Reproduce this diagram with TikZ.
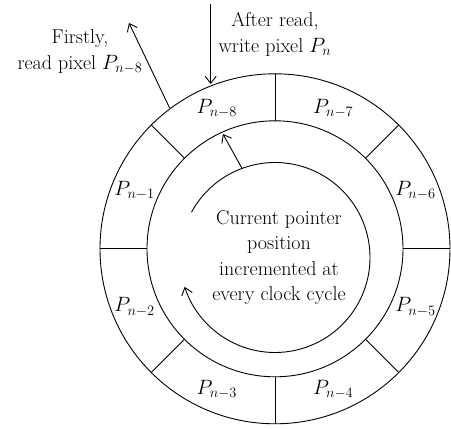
\documentclass[tikz,border=0pt]{standalone}
\usetikzlibrary{arrows.meta,calc}
\begin{document}
\begin{tikzpicture}[x=1pt,y=1pt,
  ln/.style={line width=0.9pt},
  arr/.style={ln,-{Straight Barb[length=7pt,width=11pt,line width=0.9pt]}},
  lbl/.style={font=\fontsize{20}{25}\selectfont, inner sep=0pt},
  txt/.style={font=\fontsize{20}{25.5}\selectfont, align=center, inner sep=0pt}]
\useasboundingbox (0,0) rectangle (451,429);
\coordinate (C) at (275,180.2);
\coordinate (A) at (275,171.5);
% ring
\draw[ln] (C) circle[radius=175];
\draw[ln] (C) circle[radius=128];
\foreach \a in {0,45,...,315}{
  \draw[ln] ($(C)+(\a:128)$) -- ($(C)+(\a:175)$);
}
% labels
\node[lbl] (p8) at ($(C)+(112.5:152)$) {$P_{n-8}$};
\node[lbl] (p7) at ($(C)+(67.5:152)$) {$P_{n-7}$};
\node[lbl] (p6) at ($(C)+(22.5:152)$) {$P_{n-6}$};
\node[lbl] (p5) at ($(C)+(-22.5:152)$) {$P_{n-5}$};
\node[lbl] (p4) at ($(C)+(-67.5:152)$) {$P_{n-4}$};
\node[lbl] (p3) at ($(C)+(-112.5:152)$) {$P_{n-3}$};
\node[lbl] (p2) at ($(C)+(-157.5:152)$) {$P_{n-2}$};
\node[lbl] (p1) at ($(C)+(157.5:152)$) {$P_{n-1}$};
% pointer arc
\draw[arr] ($(A)+(151.5:95)$) arc[start angle=151.5, end angle=-162, radius=95];
\coordinate (ps) at ($(A)+(110.3:95)$);
\coordinate (pe) at ($(C)+(114.4:126)$);
\draw[arr] (ps) -- (pe);
% center text
\node[txt] (ct) at (279,171.5) {Current pointer\\position\\incremented at\\every clock cycle};
% read arrow
\coordinate (rs) at ($(C)+(126.8:176)$);
\coordinate (re) at (129,406);
\draw[arr] (rs) -- (re);
\node[txt] (rt) at (80,377.5) {Firstly,\\read pixel $P_{n-8}$};
% write arrow
\coordinate (ws) at (210.7,425);
\coordinate (we) at (210.7,345);
\draw[arr] (ws) -- (we);
\node[txt] (wt) at (275,394.5) {After read,\\write pixel $P_n$};
\end{tikzpicture}
\end{document}
